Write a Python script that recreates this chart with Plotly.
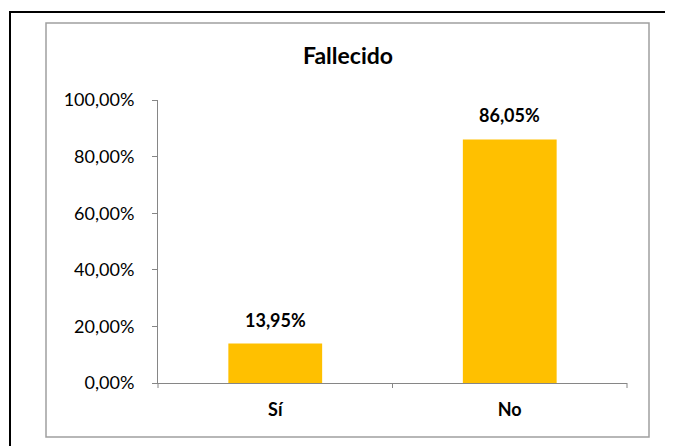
import plotly.graph_objects as go

categories = ["Sí", "No"]
values = [0.1395, 0.8605]
y_ticks = [0, 0.2, 0.4, 0.6, 0.8, 1.0]

# the page body adds an 8px offset, so the figure is drawn 8px smaller
OFF = 8
W, H = 673 - OFF, 446 - OFF
L, T = 158 - OFF, 100 - OFF
pw, ph = 469, 283
R, B = W - L - pw, H - T - ph


def px(x):
    return (x - OFF - L) / pw


def py(y):
    return (T + ph - (y - OFF)) / ph


fig = go.Figure()
fig.add_trace(
    go.Bar(
        x=categories,
        y=values,
        marker=dict(color="#FFC000", line=dict(width=0)),
        width=0.4,
        hoverinfo="x+y",
    )
)

for c, v in zip(categories, values):
    fig.add_annotation(
        x=c, y=v, xref="x", yref="y",
        text="<b>" + f"{v * 100:.2f}".replace(".", ",") + "%</b>",
        showarrow=False,
        yanchor="bottom",
        yshift=11,
        font=dict(size=18, color="black"),
    )

fig.update_layout(
    width=W,
    height=H,
    margin=dict(l=L, r=R, t=T, b=B),
    paper_bgcolor="white",
    plot_bgcolor="white",
    separators=",.",
    showlegend=False,
    font=dict(family="Lato, Liberation Sans, sans-serif", size=18, color="black"),
    title=dict(
        text="<b>Fallecido</b>",
        x=px(348),
        xref="paper",
        xanchor="center",
        y=1 - (56 - OFF) / H,
        yanchor="middle",
        font=dict(size=23, color="black"),
    ),
)

fig.update_yaxes(
    range=[0, 1],
    tickvals=y_ticks,
    tickformat=".2%",
    showgrid=False,
    zeroline=False,
    showline=True,
    linecolor="#868686",
    linewidth=1,
    ticks="outside",
    ticklen=5,
    tickcolor="#868686",
    ticklabelstandoff=14,
    tickfont=dict(size=18),
)
fig.update_xaxes(
    showgrid=False,
    showline=True,
    linecolor="#868686",
    linewidth=1,
    ticks="",
    ticklabelstandoff=10,
    tickfont=dict(size=18),
    tickprefix="<b>",
    ticksuffix="</b>",
)

# category tick marks on the x axis
for xp in [0, 0.5, 1]:
    fig.add_shape(
        type="line", xref="paper", yref="paper",
        x0=xp, x1=xp, y0=0, y1=-5 / ph,
        line=dict(color="#868686", width=1),
    )

# inner gray chart-area border
fig.add_shape(
    type="rect", xref="paper", yref="paper",
    x0=px(46), x1=px(649), y0=py(23), y1=py(437),
    line=dict(color="#A0A0A0", width=1.5),
    layer="below",
)
# outer black frame
fig.add_shape(
    type="rect", xref="paper", yref="paper",
    x0=px(10), x1=px(700), y0=py(12), y1=py(480),
    line=dict(color="black", width=2),
    layer="below",
)

fig.write_html("out.html")
